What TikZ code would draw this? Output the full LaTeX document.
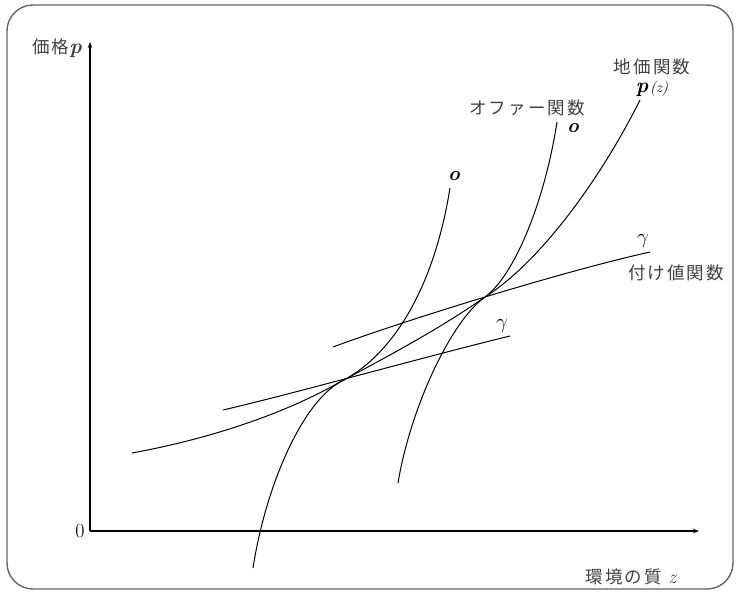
\documentclass[tikz,border=0pt]{standalone}
\usepackage{fontspec}
\newfontfamily\cjk[LetterSpace=12]{Noto Sans CJK JP}
\usetikzlibrary{arrows.meta}
\tikzset{
  frame/.style={draw=black!60, line width=1.4pt, rounded corners=26pt},
  axis/.style={line width=1.1pt, -{Stealth[length=6pt,width=4.5pt]}},
  curve/.style={line width=1pt},
  jp/.style={font=\cjk\fontsize{17.5}{19}\selectfont, text=black!75, inner sep=0pt},
  lat/.style={font=\fontsize{20}{22}\selectfont, inner sep=0pt},
  vlat/.style={font=\bfseries\itshape\fontsize{20}{22}\selectfont, inner sep=0pt}
}
\begin{document}
\begin{tikzpicture}[x=1pt,y=-1pt]
\useasboundingbox (0,0) rectangle (738,592);
\draw[frame] (7,5) rectangle (733,589);

% axes
\coordinate (O) at (90,531);
\coordinate (ytop) at (90,42);
\coordinate (xend) at (699,531);
\draw[axis] (O) -- (ytop);
\draw[axis] (O) -- (xend);
\node[jp] (ylab) at (57,48) {価格{\rmfamily\bfseries\itshape\fontsize{21}{22}\selectfont p}};
\node[lat] (zero) at (80,531) {0};
\node[jp] (xlab) at (631,577) {環境の質{\rmfamily\itshape\fontsize{19}{21}\selectfont\ z}};

% tangency points
\coordinate (T1) at (340,382);
\coordinate (T2) at (485,297);

% land price curve p(z)
\coordinate (pS) at (132,453);
\coordinate (pE) at (640,100);
\draw[curve] (pS) .. controls (230,435) and (300,405) .. (T1)
  .. controls (400,350) and (445,325) .. (T2)
  .. controls (540,262) and (600,180) .. (pE);

% bid curves
\coordinate (g1S) at (223,410);
\coordinate (g1E) at (510,336);
\draw[curve] (g1S) .. controls (300,392) and (420,358) .. (g1E);
\coordinate (g2S) at (333,347);
\coordinate (g2E) at (650,252);
\draw[curve] (g2S) .. controls (400,322) and (560,272) .. (g2E);

% offer curves
\coordinate (oAS) at (253,568);
\coordinate (oAE) at (450,188);
\draw[curve] (oAS) .. controls (265,490) and (300,405) .. (T1)
  .. controls (385,360) and (432,300) .. (oAE);
\coordinate (oBS) at (398,483);
\coordinate (oBE) at (557,122);
\draw[curve] (oBS) .. controls (410,410) and (450,322) .. (T2)
  .. controls (515,275) and (545,200) .. (oBE);

% labels
\node[vlat] (oA) at (454,176) {o};
\node[vlat] (oB) at (573,128) {o};
\node[jp] (offer) at (527,108) {オファー関数};
\node[jp] (land) at (652,67) {地価関数};
\node[inner sep=0pt] (pz) at (652,89) {{\fontsize{21}{22}\selectfont\bfseries\itshape p}\,{\fontsize{15}{16}\selectfont\itshape (z)}};
\node[lat] (gA) at (643,241) {$\gamma$};
\node[lat] (gB) at (502,326) {$\gamma$};
\node[jp] (bid) at (676,273) {付け値関数};
\end{tikzpicture}
\end{document}
